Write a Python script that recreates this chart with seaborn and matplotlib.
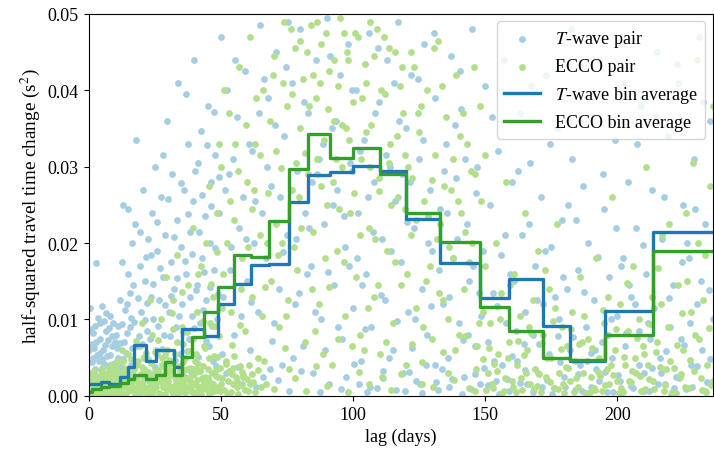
import numpy as np
import pandas as pd
import matplotlib
matplotlib.use("Agg")
import matplotlib.pyplot as plt
import seaborn as sns

# ---------------- data (values in units of 1e-3 s^2) ----------------
bin_edges = [0, 1.2, 4.8, 7.9, 11.8, 14.9, 17.2, 21.8, 25.6, 28.9, 32.2, 35.4, 39.0, 43.8,
             49.1, 55.0, 61.3, 68.4, 75.8, 83.1, 91.3, 100.1, 110.2, 120.0, 132.8, 148.0,
             159.0, 171.9, 182.0, 195.5, 213.5, 236.0]
twave_bin = [1.5, 1.6, 1.8, 1.6, 2.5, 3.8, 6.6, 4.6, 6.0, 6.0, 3.8, 8.8, 8.8, 7.9, 12.0,
             14.7, 17.1, 17.2, 25.4, 28.9, 29.3, 30.1, 29.5, 23.2, 17.4, 12.8, 15.3, 9.1,
             4.5, 11.1, 21.4]
ecco_bin = [0.5, 0.9, 1.1, 1.3, 1.7, 2.2, 2.7, 2.2, 2.7, 4.4, 2.7, 5.1, 7.7, 11.0, 14.2,
            18.4, 18.2, 22.9, 29.7, 34.3, 31.2, 32.5, 29.1, 24.0, 20.2, 11.6, 8.5, 4.9,
            4.7, 8.0, 18.9]

twave_pairs = [
    (0.5, 11.5), (1, 2), (1.5, 5), (2, 0.5), (2.5, 3.5), (3, 17.4), (3, 7), (3.5, 1.2), (4, 4.5),
    (4.5, 9.5), (5, 2.5), (5.5, 6), (6, 0.8), (6, 3), (6.5, 8.5), (7, 5.2), (7.5, 1.5), (8, 10.5),
    (8, 4), (8.5, 2), (9, 6.5), (9.5, 0.6), (10, 3.2), (10.5, 8), (11, 5), (11.5, 1), (12, 12.5),
    (1.8, 8.2), (2.2, 6.3), (4.2, 5.6), (5.2, 4.8), (7.2, 7.3), (9.2, 4.2), (0.8, 3), (3.8, 2.2),
    (6.8, 2.7), (10.8, 6.2), (11.8, 3.5), (1.2, 4.4), (5.8, 9.8), (8.8, 7.8),
    (12.5, 17.5), (13, 25), (13.5, 7), (14, 2), (14.5, 12), (15, 24.5), (15.5, 9), (16, 4),
    (16.5, 20), (17, 14.5), (17.5, 22.5), (18, 33.5), (18.5, 6.5), (19, 1.5), (19.5, 17), (20, 11),
    (20.5, 27), (21, 5), (21.5, 15), (22, 8.5), (22.5, 20.5), (23, 3), (23.5, 13), (24, 24),
    (24.5, 10), (13.2, 4.8), (16.2, 10.2), (19.2, 7.8), (22.2, 12.2), (14.8, 16), (20.8, 2.5),
    (23.8, 18.5),
    (25, 30), (25.5, 6), (26, 19), (26.5, 12.5), (27, 2), (27.5, 26), (28, 15.5), (28.5, 8),
    (29, 21), (29.5, 36), (30, 4), (30.5, 11), (31, 17.5), (31.5, 29), (32, 1), (32.5, 14),
    (33, 9), (33.5, 23), (34, 41), (34.5, 5.5), (35, 19.5), (35.5, 12), (36, 27), (36.5, 2.5),
    (37, 16), (37.5, 33), (38, 7.5), (38.5, 21.5), (39, 10.5), (39.5, 25.5), (40, 44), (40.5, 3.5),
    (41, 14.5), (41.5, 30.5), (42, 9.5), (42.5, 34.7), (43, 18), (43.5, 1.5), (44, 23.5),
    (44.5, 12.5), (45, 38), (45.5, 6.5), (46, 20), (46.5, 28), (47, 4.5), (47.5, 16.5),
    (48, 31.5), (48.5, 10), (49, 0.8), (49.5, 24),
    (50, 47), (51, 13), (52, 3), (53, 29), (54, 19.5), (55, 8), (56, 36.5), (57, 22), (58, 1.5),
    (59, 42.5), (60, 15), (61, 6), (62, 32), (63, 25.5), (64, 11), (65, 48.5), (66, 2.5), (67, 18),
    (68, 39), (69, 27.5), (70, 9.5), (71, 45), (72, 14), (73, 4), (74, 34), (75, 21), (76, 0.7),
    (77, 41), (78, 12), (79, 29.5), (80, 48), (81, 6.5), (82, 24), (83, 37), (84, 17), (85, 3),
    (86, 44), (87, 31), (88, 10), (89, 22.5), (90, 49.5), (91, 1.5), (92, 35), (93, 14.5), (94, 27),
    (95, 42), (96, 7.5), (97, 19.5), (98, 46), (99, 30.5), (100, 11.5), (52.5, 40), (57.5, 10.5),
    (62.5, 20), (67.5, 30), (72.5, 26), (77.5, 5), (82.5, 16), (87.5, 0.5), (92.5, 25), (97.5, 2.5),
    (54.5, 31), (64.5, 37), (74.5, 43), (84.5, 28), (94.5, 9), (58.5, 26), (68.5, 3.5),
    (78.5, 20.5), (88.5, 33), (98.5, 17),
    (101, 40), (102, 24), (103, 4.5), (104, 33.5), (105, 16), (106, 47.5), (107, 9), (108, 28),
    (109, 1), (110, 38.5), (111, 20.5), (112, 12.5), (113, 44), (114, 30), (115, 6), (116, 25.5),
    (117, 49), (118, 17.5), (119, 3), (120, 35), (121, 11), (122, 42), (123, 22), (124, 2),
    (125, 31), (126, 14), (127, 46), (128, 8), (129, 27), (130, 19), (131, 39), (132, 0.8),
    (133, 24.5), (134, 12), (135, 33), (136, 5), (137, 44.5), (138, 18), (139, 28.5), (140, 9.5),
    (141, 37.5), (142, 2.5), (143, 22.5), (144, 15), (145, 48), (146, 6.5), (147, 30), (148, 1.5),
    (149, 19), (150, 40.5), (103.5, 14.5), (108.5, 37), (113.5, 5), (118.5, 29), (123.5, 10),
    (128.5, 20), (133.5, 3.5), (138.5, 35.5), (143.5, 8), (147.5, 13.5), (105.5, 26), (115.5, 41),
    (125.5, 1.5), (135.5, 24), (145.5, 17),
    (151, 7), (152, 25), (153, 13.5), (154, 2), (155, 32), (156, 18.5), (157, 44), (158, 9.5),
    (159, 0.7), (160, 28), (161, 15), (162, 4.5), (163, 37), (164, 21), (165, 11), (166, 1.5),
    (167, 30.5), (168, 8), (169, 17), (170, 3), (171, 26), (172, 12), (173, 42), (174, 5.5),
    (175, 19.5), (176, 1), (177, 35), (178, 10), (179, 23), (180, 2.5), (181, 14), (182, 6),
    (183, 31), (184, 0.8), (185, 16.5), (186, 4), (187, 27.5), (188, 9), (189, 20), (190, 1.2),
    (191, 12.5), (192, 3.5), (193, 44), (194, 7), (195, 24.5), (196, 0.5), (197, 15.5), (198, 5),
    (199, 33.5), (200, 10.5), (201, 2), (202, 18), (203, 6.5), (204, 28), (205, 13), (206, 1),
    (207, 22), (208, 8.5), (209, 38), (210, 3), (211, 16), (212, 0.6), (213, 27), (214, 11.5),
    (215, 45), (216, 5), (217, 20.5), (218, 1.5), (219, 34), (220, 9), (221, 14.5), (222, 2.5),
    (223, 41), (224, 7.5), (225, 25), (226, 0.9), (227, 18), (228, 4), (229, 31), (230, 12),
    (231, 47), (232, 6), (233, 22.5), (234, 1.8), (235, 36), (236, 10), (156.5, 4), (166.5, 22.5),
    (176.5, 13), (186.5, 0.6), (196.5, 8), (206.5, 12), (216.5, 3), (226.5, 20), (161.5, 8.5),
    (171.5, 1.2), (181.5, 25), (191.5, 6), (201.5, 17), (211.5, 9.5), (221.5, 1), (231.5, 15),
]

twave_pairs_more = [
    (0.2, 6), (0.7, 8.8), (1.1, 0.9), (1.4, 6.8), (1.9, 3.1), (2.3, 9.1), (2.7, 1.7), (3.3, 5.3),
    (3.6, 10.2), (4.1, 0.4), (4.4, 7.4), (4.8, 3.4), (5.1, 11.8), (5.4, 1.6), (5.9, 4.2),
    (6.3, 6.7), (6.6, 10.8), (7.1, 3.9), (7.4, 0.6), (7.9, 8.9), (8.3, 5.4), (8.6, 2.8),
    (9.1, 9.6), (9.4, 3.3), (9.9, 7.1), (10.3, 1.8), (10.6, 4.6), (11.1, 9.2), (11.4, 2.6),
    (11.9, 6.9), (12.3, 3.8), (12.7, 9.4), (13.3, 1.3), (13.7, 11.2), (14.2, 5.6), (14.6, 8.2),
    (15.2, 2.9), (15.7, 13.5), (16.4, 6.2), (16.8, 1.1),
    (17.3, 9.7), (18.2, 4.4), (18.8, 12.8), (19.6, 21.5), (20.3, 6.8), (21.2, 9.9), (21.8, 18.2),
    (22.7, 1.9), (23.3, 7.4), (24.3, 14.7), (25.2, 3.8), (25.8, 22.7), (26.3, 9.2), (27.2, 16.8),
    (27.8, 6.1), (28.3, 31.5), (28.8, 11.9), (29.3, 2.9), (30.2, 25.8), (30.8, 7.8), (31.3, 13.1),
    (32.3, 20.8), (32.8, 4.7), (33.3, 15.4), (34.3, 10.4), (34.8, 27.8), (35.3, 1.8), (35.8, 8.3),
    (36.3, 17.7), (36.8, 39.5), (37.3, 5.9), (37.8, 23.8), (38.3, 12.9), (38.8, 3.1), (39.3, 18.6),
    (39.8, 8.9), (40.3, 29.5), (40.8, 13.8), (41.3, 5.1), (41.8, 21.4), (42.3, 0.9), (42.8, 26.3),
    (43.3, 11.3), (43.8, 16.2), (44.3, 7.2), (44.8, 32.8), (45.3, 2.2), (45.8, 14.2), (46.3, 24.8),
    (46.8, 9.1), (47.3, 37.2), (47.8, 19.3), (48.3, 3.9), (48.8, 13.3), (49.3, 28.7),
    (50.5, 5.5), (51.5, 27), (53.5, 16.5), (55.5, 44), (56.5, 3.8), (59.5, 20.5), (60.5, 33),
    (61.5, 12.3), (63.5, 1.1), (65.5, 24), (66.5, 41.5), (69.5, 7.2), (70.5, 35.5), (71.5, 2.1),
    (73.5, 18.8), (75.5, 49), (76.5, 27), (79.5, 13.5), (80.5, 3.2), (81.5, 38.5), (83.5, 22),
    (85.5, 11), (86.5, 29), (89.5, 6), (90.5, 16.2), (91.5, 44.5), (93.5, 36), (95.5, 0.9),
    (96.5, 23.5), (99.5, 40), (100.5, 4.2), (101.5, 18), (102.5, 32), (104.5, 8.8), (106.5, 1.2),
    (107.5, 21.5), (109.5, 45.5), (110.5, 13.2), (111.5, 3.3), (112.5, 31.5), (114.5, 19),
    (116.5, 9.8), (117.5, 36), (119.5, 0.6), (120.5, 22.8), (121.5, 28), (122.5, 6.3),
    (124.5, 41.5), (126.5, 33.5), (127.5, 4.1), (129.5, 11.8), (130.5, 47.5), (131.5, 1.8),
    (132.5, 16.5), (134.5, 29.5), (136.5, 13), (137.5, 2.2), (139.5, 20.5), (140.5, 42.5),
    (141.5, 7.3), (142.5, 31), (144.5, 0.9), (146.5, 26.5), (148.5, 10.5), (149.5, 3.6),
    (102.2, 1.6), (105.2, 0.5), (111.2, 2.4), (116.2, 0.8), (121.2, 3.1), (126.2, 0.4),
    (131.2, 4), (136.2, 1.2), (141.2, 0.3), (146.2, 2.8), (151.2, 1.4), (153.2, 4.6), (155.2, 0.3),
    (158.2, 2.2), (160.2, 5.2), (163.2, 1.7), (165.2, 3.4), (168.2, 0.5), (170.2, 6.8),
    (173.2, 2.1), (175.2, 0.3), (178.2, 4.4), (180.2, 1.1), (183.2, 7.7), (185.2, 2.9),
    (188.2, 0.4), (190.2, 5.6), (193.2, 1.9), (195.2, 3.1), (198.2, 0.5), (200.2, 2.7),
    (203.2, 8.2), (205.2, 1.3), (208.2, 4.1), (210.2, 0.7), (213.2, 3.6), (215.2, 1.6),
    (218.2, 5.9), (220.2, 0.3), (223.2, 2.4), (225.2, 6.6), (228.2, 1.1), (230.2, 3.9),
    (233.2, 0.6), (235.2, 4.8),
    (152.5, 36.5), (154.5, 11.8), (157.5, 21), (159.5, 16), (162.5, 29.5), (164.5, 6.8),
    (167.5, 40.5), (169.5, 12.5), (172.5, 19), (174.5, 33), (177.5, 7.8), (179.5, 15.5),
    (182.5, 48), (184.5, 23), (187.5, 13.6), (189.5, 39.5), (192.5, 18.2), (194.5, 29),
    (197.5, 10), (199.5, 22), (202.5, 41), (204.5, 14.5), (207.5, 33), (209.5, 19.8),
    (212.5, 7.5), (214.5, 36.5), (217.5, 26), (219.5, 12.8), (222.5, 43.5), (224.5, 17.5),
    (227.5, 9.6), (229.5, 24.5), (232.5, 38.5), (234.5, 13.8),
]

ecco_pairs = [
    (0.5, 0.3), (1, 1.2), (1.5, 0.6), (2, 2.1), (2.5, 0.2), (3, 1.5), (3.5, 0.9), (4, 2.6),
    (4.5, 0.4), (5, 1.8), (5.5, 0.7), (6, 3), (6.5, 1.1), (7, 0.3), (7.5, 2.3), (8, 1.4),
    (8.5, 0.5), (9, 3.4), (9.5, 1), (10, 2), (10.5, 0.2), (11, 4.5), (11.5, 1.6), (12, 0.6),
    (12.5, 2.8), (13, 1.2), (13.5, 3.7), (14, 0.4), (14.5, 2.2), (15, 5.5), (15.5, 1.5), (16, 0.8),
    (16.5, 3), (17, 1.9), (17.5, 0.3), (18, 4), (18.5, 2.5), (19, 1), (19.5, 6.5), (20, 0.5),
    (20.5, 2), (21, 3.5), (21.5, 1.2), (22, 0.2), (22.5, 4.8), (23, 2.7), (23.5, 1.6), (24, 8),
    (24.5, 0.6), (25, 3.2), (25.5, 1.8), (26, 5.5), (26.5, 0.4), (27, 2.4), (27.5, 10), (28, 1.1),
    (28.5, 3.8), (29, 0.3), (29.5, 6), (30, 2), (30.5, 1.3), (31, 4.3), (31.5, 0.7), (32, 12.5),
    (32.5, 2.6), (33, 1.5), (33.5, 7), (34, 0.2), (34.5, 3.3), (35, 1.9), (35.5, 9), (36, 0.9),
    (36.5, 5), (37, 2.2), (37.5, 14.5), (38, 1.2), (38.5, 3.6), (39, 0.5), (39.5, 7.5), (40, 2.8),
    (40.5, 1.4), (41, 11), (41.5, 4.2), (42, 0.6), (42.5, 17), (43, 2.3), (43.5, 6.5), (44, 1),
    (44.5, 20), (45, 3.5), (45.5, 0.3), (46, 9.5), (46.5, 1.7), (47, 13), (47.5, 5.2), (48, 0.8),
    (48.5, 24), (49, 2.5), (49.5, 7.8),
    (1.8, 2.6), (3.2, 0.1), (5.2, 2.9), (7.8, 3.1), (9.8, 0.8), (11.2, 2.4), (13.8, 1.7),
    (16.2, 2.7), (18.2, 0.9), (20.8, 3.2), (22.8, 0.9), (24.2, 2.1), (26.2, 3.1), (28.2, 2.3),
    (30.2, 3.6), (32.2, 0.5), (34.2, 2.6), (36.2, 3.4), (38.2, 2), (40.2, 0.2), (42.2, 3.2),
    (44.2, 2.5), (46.2, 1.1), (48.2, 3.4), (50.2, 1.5), (52.2, 0.4), (54.2, 2.8), (56.2, 1.2),
    (58.2, 3.1), (60.2, 0.6), (2.8, 1.9), (6.8, 2.1), (10.8, 3.3), (14.8, 0.9), (19.8, 2.8),
    (24.8, 1.4), (29.8, 2.9), (34.8, 1.6), (39.8, 3.5), (44.8, 1.8), (49.8, 0.7), (54.8, 3.7),
    (59.8, 2.2), (12.8, 6), (17.8, 7.2), (21.8, 5.6), (27.8, 4.9), (31.8, 8.8), (35.8, 6.8),
    (40.8, 5.5), (47.8, 9.2),
    (50, 30), (51, 16), (52, 4.5), (53, 37), (54, 11), (55, 23), (56, 2), (57, 43), (58, 18),
    (59, 8.5), (60, 28), (61, 47), (62, 13), (63, 33), (64, 5), (65, 21), (66, 40), (67, 1.5),
    (68, 26.5), (69, 15), (70, 44.5), (71, 32), (72, 9), (73, 20), (74, 49), (75, 38), (76, 3.5),
    (77, 27), (78, 45.5), (79, 16.5), (80, 35), (81, 41.5), (82, 7), (83, 29), (84, 48.5),
    (85, 21.5), (86, 39), (87, 12), (88, 46), (89, 33.5), (90, 25), (91, 42.5), (92, 4), (93, 36),
    (94, 19), (95, 49.5), (96, 30), (97, 10.5), (98, 44), (99, 24), (100, 38.5), (101, 15.5),
    (102, 47), (103, 31), (104, 6), (105, 41), (106, 22), (107, 35.5), (108, 13), (109, 48),
    (110, 28.5), (111, 2.5), (112, 39.5), (113, 19), (114, 33), (115, 9.5), (116, 45), (117, 26),
    (118, 14.5), (119, 37), (120, 4), (121, 30), (122, 21), (123, 43), (124, 11.5), (125, 34.5),
    (126, 1.5), (127, 25.5), (128, 40), (129, 17), (130, 7.5), (131, 31.5), (132, 46.5),
    (133, 22.5), (134, 12.5), (135, 36.5), (136, 3), (137, 27), (138, 18), (139, 42), (140, 8),
    (141, 24), (142, 14), (143, 33), (144, 1), (145, 20), (146, 29), (147, 6.5), (148, 38),
    (149, 11), (150, 17),
    (52.5, 20), (55.5, 33), (58.5, 2.5), (62.5, 27), (65.5, 10.5), (68.5, 36), (71.5, 18.5),
    (73.5, 41), (75.5, 12.5), (78.5, 30.5), (80.5, 22), (82.5, 45), (84.5, 14), (86.5, 31),
    (88.5, 5.5), (90.5, 37.5), (92.5, 28), (94.5, 40.5), (96.5, 17.5), (98.5, 33.5), (100.5, 26.5),
    (102.5, 8), (104.5, 43.5), (106.5, 30), (108.5, 20.5), (110.5, 40), (112.5, 7), (114.5, 25),
    (116.5, 34), (118.5, 43), (120.5, 16), (122.5, 28.5), (124.5, 37), (126.5, 9), (128.5, 23.5),
    (130.5, 45.5), (132.5, 13.5), (134.5, 27.5), (136.5, 19.5), (138.5, 6), (140.5, 34),
    (142.5, 21.5), (144.5, 29.5), (146.5, 3.5), (148.5, 25.5), (76.5, 48), (86.5, 49), (96.5, 47.5),
    (106.5, 49), (83.5, 38), (93.5, 31), (103.5, 39), (113.5, 45.5), (79.5, 26), (89.5, 18),
    (99.5, 6.5), (109.5, 14.5), (119.5, 24.5), (57.5, 14), (63.5, 39), (67.5, 20), (87.5, 41),
    (97.5, 35),
    (151, 3), (152, 9.5), (153, 1), (154, 20), (155, 5.5), (156, 13.5), (157, 0.6), (158, 28),
    (159, 7), (160, 2), (161, 16), (162, 4), (163, 10.5), (164, 0.8), (165, 24), (166, 6),
    (167, 1.5), (168, 12.5), (169, 3.5), (170, 19), (171, 0.5), (172, 8), (173, 2.5), (174, 14),
    (175, 5), (176, 1), (177, 22.5), (178, 3), (179, 9), (180, 0.4), (181, 6.5), (182, 2),
    (183, 11), (184, 4.5), (185, 1.2), (186, 15.5), (187, 3), (188, 0.3), (189, 7.5), (190, 2.5),
    (191, 1), (192, 18), (193, 5), (194, 0.7), (195, 9.5), (196, 3.5), (197, 1.5), (198, 26),
    (199, 6), (200, 2), (201, 12), (202, 0.5), (203, 4), (204, 8.5), (205, 1.8), (206, 17),
    (207, 3), (208, 10), (209, 0.6), (210, 5.5), (211, 30), (212, 2.2), (213, 13), (214, 0.9),
    (215, 7), (216, 3.8), (217, 21), (218, 1.4), (219, 9), (220, 4.5), (221, 35), (222, 0.4),
    (223, 14.5), (224, 2.8), (225, 6), (226, 24), (227, 1), (228, 11), (229, 3.2), (230, 44),
    (231, 7.5), (232, 0.8), (233, 18.5), (234, 4), (235, 27.5), (236, 2),
    (150.5, 0.8), (153.5, 4.2), (157.5, 2.4), (161.5, 0.5), (165.5, 3), (169.5, 1.3), (173.5, 5),
    (177.5, 0.9), (181.5, 3.6), (185.5, 6.8), (189.5, 0.5), (193.5, 2.6), (197.5, 4), (201.5, 1),
    (205.5, 3.3), (209.5, 6.5), (213.5, 2), (217.5, 0.7), (221.5, 3.7), (225.5, 1.2), (229.5, 8),
    (233.5, 0.5), (166.5, 9), (176.5, 11.5), (186.5, 7), (196.5, 13), (206.5, 5), (216.5, 12),
    (226.5, 15), (230.5, 20),
]

ecco_pairs_more = [
    (0.3, 1.5), (0.9, 2.4), (1.3, 0.4), (1.7, 1.1), (2.2, 3.2), (2.6, 0.9), (3.1, 2.2), (3.6, 1.8),
    (4.1, 0.6), (4.6, 1.5), (5.1, 3.6), (5.6, 2.4), (6.1, 0.2), (6.6, 1.9), (7.1, 2.8), (7.6, 0.9),
    (8.1, 3.9), (8.6, 1.8), (9.1, 0.3), (9.6, 2.5), (10.1, 4.1), (10.6, 1.2), (11.1, 0.4),
    (11.6, 3), (12.1, 2.1), (12.6, 0.3), (13.1, 4.6), (13.6, 2.5), (14.1, 1.5), (14.6, 3.3),
    (15.1, 0.6), (15.6, 2.7), (16.1, 4.8), (16.6, 1.3), (17.1, 3.5), (17.6, 0.5), (18.1, 2.1),
    (18.6, 4.6), (19.1, 1.6), (19.6, 0.4), (20.1, 3.8), (20.6, 1.1), (21.1, 5.1), (21.6, 2.4),
    (22.1, 0.7), (22.6, 3.1), (23.1, 1.3), (23.6, 4.3), (24.1, 0.3), (24.6, 2.6), (25.1, 5.8),
    (25.6, 1.2), (26.1, 3.4), (26.6, 2), (27.1, 0.2), (27.6, 4.1), (28.1, 1.6), (28.6, 2.9),
    (29.1, 5.3), (29.6, 0.9), (30.1, 2.5), (30.6, 4.7), (31.1, 1.1), (31.6, 3.2), (32.1, 0.3),
    (32.6, 5.5), (33.1, 2.1), (33.6, 1), (34.1, 3.9), (34.6, 0.6), (35.1, 2.8), (35.6, 4.4),
    (36.1, 1.4), (36.6, 0.4), (37.1, 3.5), (37.6, 2.3), (38.1, 5.9), (38.6, 0.8), (39.1, 2.7),
    (39.6, 1.5), (40.1, 4.5), (40.6, 0.5), (41.1, 2.1), (41.6, 3.3), (42.1, 1.2), (42.6, 0.2),
    (43.1, 3.9), (43.6, 1.8), (44.1, 6.2), (44.6, 0.9), (45.1, 2.4), (45.6, 4.9), (46.1, 0.4),
    (46.6, 3), (47.1, 1.5), (47.6, 0.6), (48.1, 2.6), (48.6, 5.1), (49.1, 1.1), (49.6, 3.6),
    (50.6, 2.4), (51.2, 0.8), (51.8, 4.2), (52.6, 1.9), (53.2, 3.3), (53.8, 0.5), (54.6, 1.6),
    (55.2, 5.2), (55.8, 2.5), (56.6, 0.3), (57.2, 3.9), (57.8, 1.4), (58.6, 2.7), (59.2, 0.8),
    (60.6, 4), (61.2, 1.5), (62, 2.9), (63, 0.5), (64.2, 3.4), (65.4, 1.2),
    (20.4, 9.5), (23.4, 12.5), (26.4, 7.3), (29.4, 15.5), (31.4, 10.8), (33.4, 18.5), (35.4, 13.6),
    (37.4, 8.4), (39.4, 22), (41.4, 16), (43.4, 9.8), (45.4, 27.5), (46.4, 14.6), (48.4, 18.8),
    (49.4, 33), (50.4, 11.5), (51.4, 40), (53.4, 25.5), (54.4, 6.6), (56.4, 29.5), (57.4, 9.3),
    (59.4, 35.5), (60.4, 19.5),
    (61.8, 24.5), (64.8, 31.5), (66.8, 14.2), (69.8, 42), (70.8, 22.5), (72.8, 29.8), (74.8, 10.5),
    (76.8, 39.5), (77.8, 19.5), (79.8, 46.5), (81.8, 31.8), (84.8, 42), (85.8, 8.5), (87.8, 27.5),
    (89.8, 47.5), (90.8, 14.2), (92.8, 44), (94.8, 24.5), (95.8, 35.5), (97.8, 45), (99.8, 29.5),
    (100.8, 47.5), (102.8, 21), (104.8, 34.5), (105.8, 11.5), (107.8, 44.5), (109.8, 26.8),
    (111.8, 47), (113.8, 30.5), (115.8, 17.5), (117.8, 40.5), (119.8, 31.5), (121.8, 45),
    (123.8, 23), (125.8, 38), (127.8, 15), (129.8, 28.2), (131.8, 20.5), (133.8, 40.5),
    (135.8, 10), (137.8, 31), (139.8, 25.5), (141.8, 37), (143.8, 17.5), (145.8, 43), (147.8, 9.5),
    (149.8, 31.5),
    (62.2, 1.8), (66.2, 4.5), (70.2, 0.9), (74.2, 6.2), (78.2, 2.4), (82.2, 0.6), (86.2, 3.9),
    (90.2, 1.3), (94.2, 7.5), (98.2, 0.5), (102.2, 3.1), (106.2, 1.6), (110.2, 5.5), (114.2, 0.8),
    (118.2, 2.9), (122.2, 6.8), (126.2, 4.4), (130.2, 1.1), (134.2, 5.8), (138.2, 2.1),
    (142.2, 7.9), (146.2, 0.7), (149.2, 4.8),
    (151.5, 6.2), (152.5, 1.6), (154.5, 3.3), (155.5, 10), (156.5, 0.4), (158.5, 4.9),
    (159.5, 14.5), (160.5, 1.1), (162.5, 7.2), (163.5, 2.3), (164.5, 5.4), (167.5, 8.2),
    (168.5, 0.9), (170.5, 2.8), (171.5, 6.9), (172.5, 16.5), (174.5, 1.8), (175.5, 9.8),
    (178.5, 6.1), (179.5, 1.6), (180.5, 3.8), (182.5, 8.8), (183.5, 0.5), (184.5, 2.4),
    (187.5, 10.4), (188.5, 4.6), (190.5, 6.3), (191.5, 0.8), (192.5, 3.1), (194.5, 11.2),
    (195.5, 1.4), (198.5, 2.7), (199.5, 8.7), (200.5, 0.4), (202.5, 5.1), (203.5, 14.8),
    (204.5, 1.9), (207.5, 7.6), (208.5, 2.6), (210.5, 0.9), (211.5, 4.1), (212.5, 9.4),
    (214.5, 5.8), (215.5, 16.8), (218.5, 3.5), (219.5, 22.5), (220.5, 0.5), (222.5, 6.7),
    (223.5, 2.5), (224.5, 10.8), (227.5, 4.7), (228.5, 30.5), (231.5, 2.4), (232.5, 12.5),
    (234.5, 8.9), (235.5, 1.4), (236, 38),
]

# ---------------- style ----------------
plt.rcParams["font.family"] = ["Liberation Serif", "DejaVu Serif"]
plt.rcParams["mathtext.fontset"] = "stix"
plt.rcParams["font.size"] = 13

c_tw_light, c_ec_light = "#a6cee3", "#b2df8a"
c_tw, c_ec = "#1f78b4", "#33a02c"

tw = pd.DataFrame(twave_pairs + twave_pairs_more, columns=["lag", "v"])
tw["v"] /= 1000
ec = pd.DataFrame(ecco_pairs + ecco_pairs_more, columns=["lag", "v"])
ec["v"] /= 1000
tw_bin = pd.DataFrame({"lag": bin_edges, "v": np.array(twave_bin + twave_bin[-1:]) / 1000})
ec_bin = pd.DataFrame({"lag": bin_edges, "v": np.array(ecco_bin + ecco_bin[-1:]) / 1000})

fig = plt.figure(figsize=(7.14, 4.52), dpi=100)
ax = fig.add_axes([0.124, 0.122, 0.874, 0.845])

sns.scatterplot(data=tw, x="lag", y="v", ax=ax, color=c_tw_light, s=24, linewidth=0,
                label="$T$-wave pair")
sns.scatterplot(data=ec, x="lag", y="v", ax=ax, color=c_ec_light, s=24, linewidth=0,
                label="ECCO pair")
sns.lineplot(data=tw_bin, x="lag", y="v", ax=ax, color=c_tw, linewidth=2.4,
             drawstyle="steps-post", label="$T$-wave bin average")
sns.lineplot(data=ec_bin, x="lag", y="v", ax=ax, color=c_ec, linewidth=2.4,
             drawstyle="steps-post", label="ECCO bin average")

ax.set_xlim(0, 236)
ax.set_ylim(0, 0.05)
ax.set_xticks([0, 50, 100, 150, 200])
ax.set_yticks([0, 0.01, 0.02, 0.03, 0.04, 0.05])
ax.set_yticklabels(["0.00", "0.01", "0.02", "0.03", "0.04", "0.05"])
ax.set_xlabel("lag (days)")
ax.set_ylabel("half-squared travel time change (s$^2$)", fontsize=13.8)
ax.legend(loc="upper right", fontsize=13, markerscale=1.0, borderaxespad=0.4)

fig.savefig("out.png", dpi=100)
